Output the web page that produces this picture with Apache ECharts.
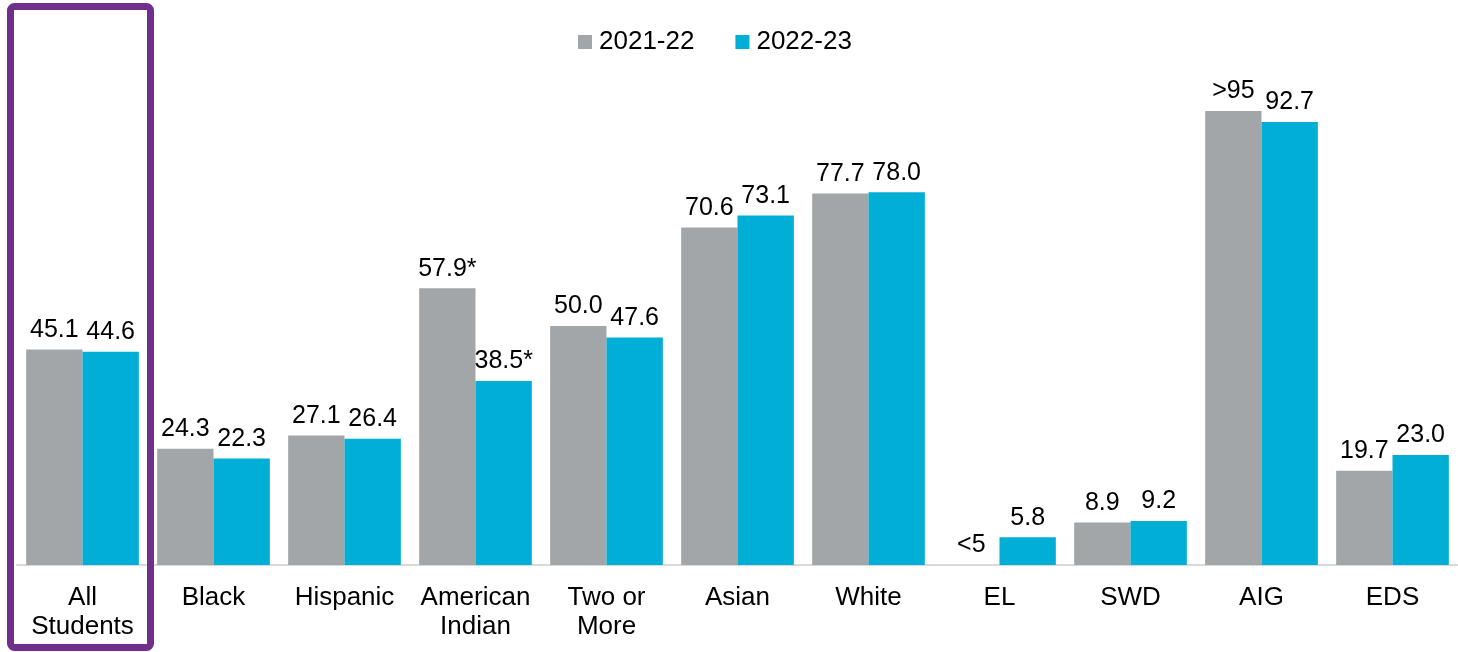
<!DOCTYPE html>
<html>
<head>
<meta charset="utf-8">
<script src="https://cdn.jsdelivr.net/npm/echarts@6/dist/echarts.min.js"></script>
<style>
html,body{margin:0;padding:0;background:#fff;}
#chart{width:1458px;height:652px;}
</style>
</head>
<body>
<div id="chart"></div>
<script>
const categories = ["All\nStudents","Black","Hispanic","American\nIndian","Two or\nMore","Asian","White","EL","SWD","AIG","EDS"];
const seriesNames = ["2021-22","2022-23"];
const values2122 = [45.1, 24.3, 27.1, 57.9, 50.0, 70.6, 77.7, 0, 8.9, 95, 19.7];
const values2223 = [44.6, 22.3, 26.4, 38.5, 47.6, 73.1, 78.0, 5.8, 9.2, 92.7, 23.0];
const labels2122 = ["45.1","24.3","27.1","57.9*","50.0","70.6","77.7","<5","8.9",">95","19.7"];
const labels2223 = ["44.6","22.3","26.4","38.5*","47.6","73.1","78.0","5.8","9.2","92.7","23.0"];

const FONT = "'Liberation Sans', Arial, sans-serif";
const chart = echarts.init(document.getElementById('chart'), null, {renderer:'canvas'});

function mkSeries(name, vals, labs, color){
  return {
    name: name,
    type: 'bar',
    data: vals.map((v,i)=>({value:v, label:{formatter: labs[i]}})),
    barGap: '0%',
    barCategoryGap: '14%',
    itemStyle: {color: color},
    label: {show:true, position:'top', distance:7, color:'#000', fontSize:25, fontFamily:FONT},
    animation:false
  };
}

chart.setOption({
  animation:false,
  legend: {
    left: 573, top: 24,
    itemWidth: 14, itemHeight: 14, itemGap: 41,
    icon: 'rect',
    textStyle: {fontSize: 26, color:'#000', fontFamily: FONT, padding:[0,0,0,2]},
    data: seriesNames
  },
  grid: {left: 17, right: -2, top: 87, bottom: 87, containLabel:false},
  xAxis: {
    type:'category',
    data: categories,
    axisLine: {show:true, lineStyle:{color:'#D9D9D9', width:2}},
    axisTick: {show:false},
    axisLabel: {color:'#000', fontSize:26, fontFamily:FONT, margin:18, lineHeight:29, interval:0}
  },
  yAxis: {
    type:'value', min:0, max:100,
    show:false,
    splitLine:{show:false}
  },
  series: [
    mkSeries(seriesNames[0], values2122, labels2122, '#A3A6A8'),
    mkSeries(seriesNames[1], values2223, labels2223, '#00AED6')
  ],
  graphic: [{
    type:'rect',
    shape:{x:10.5, y:6.5, width:140, height:641, r:4},
    style:{fill:'none', stroke:'#702F8A', lineWidth:7},
    z:100
  }]
});
</script>
</body>
</html>
